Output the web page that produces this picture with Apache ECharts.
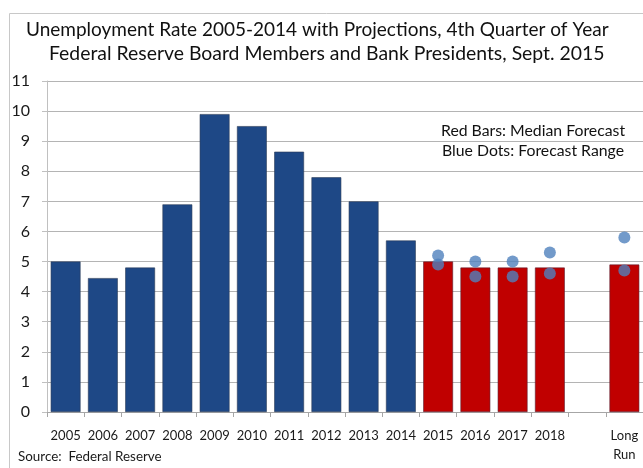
<!DOCTYPE html>
<html>
<head>
<meta charset="utf-8">
<script src="https://cdn.jsdelivr.net/npm/echarts@6/dist/echarts.min.js"></script>
<style>
  html, body { margin: 0; padding: 0; background: #fff; }
  #chart { width: 643px; height: 468px; }
</style>
</head>
<body>
<div id="chart"></div>
<script>
(function(){
  // Categorías del eje X (hueco vacío antes de "Long Run")
  const categories = ["2005","2006","2007","2008","2009","2010","2011","2012","2013","2014",
                      "2015","2016","2017","2018","","Long\nRun"];
  // Tasa de desempleo histórica (4º trimestre)
  const actualRate = [5.0, 4.45, 4.8, 6.9, 9.9, 9.5, 8.65, 7.8, 7.0, 5.7,
                      null, null, null, null, null, null];
  // Mediana de proyecciones
  const medianProj = [null, null, null, null, null, null, null, null, null, null,
                      5.0, 4.8, 4.8, 4.8, null, 4.9];
  // Rango de proyecciones (puntos)
  const rangeHigh = ["-","-","-","-","-","-","-","-","-","-", 5.2, 5.0, 5.0, 5.3, "-", 5.8];
  const rangeLow  = ["-","-","-","-","-","-","-","-","-","-", 4.9, 4.5, 4.5, 4.6, "-", 4.7];
  const yTicks = [0, 11, 1]; // min, max, intervalo

  const font = "Lato, 'Noto Sans', sans-serif";
  const chart = echarts.init(document.getElementById("chart"));

  const dotStyle = { color: "#4f81bd" };

  const option = {
    animation: false,
    grid: { left: 47, top: 81, width: 601, height: 331, containLabel: false },
    graphic: [
      { type: "rect", shape: { x: 9.5, y: 13.5, width: 700, height: 500 },
        style: { fill: "none", stroke: "#c8c8c8", lineWidth: 1 }, silent: true },
      { type: "text", x: 26, y: 30, style: { text: "Unemployment Rate 2005-2014 with Projections, 4th Quarter of Year",
        font: "19px " + font, fill: "#111", align: "left", verticalAlign: "middle" } },
      { type: "text", x: 49, y: 54, style: { text: "Federal Reserve Board Members and Bank Presidents, Sept. 2015",
        font: "19.4px " + font, fill: "#111", align: "left", verticalAlign: "middle" } },
      { type: "text", x: 441, y: 131, style: { text: "Red Bars: Median Forecast",
        font: "15.8px " + font, fill: "#111", align: "left", verticalAlign: "middle" } },
      { type: "text", x: 442, y: 151, style: { text: "Blue Dots: Forecast Range",
        font: "15.8px " + font, fill: "#111", align: "left", verticalAlign: "middle" } },
      { type: "text", x: 18, y: 457, style: { text: "Source:  Federal Reserve",
        font: "13.4px " + font, fill: "#1a1a1a", align: "left", verticalAlign: "middle" } }
    ],
    xAxis: {
      type: "category",
      data: categories,
      axisLine: { lineStyle: { color: "#a6a6a6" } },
      axisTick: { show: true, interval: 0, length: 5, lineStyle: { color: "#a6a6a6" } },
      axisLabel: { interval: 0, margin: 14, color: "#1a1a1a", fontSize: 13, fontFamily: font, lineHeight: 19 }
    },
    yAxis: {
      type: "value",
      min: yTicks[0], max: yTicks[1], interval: yTicks[2],
      axisLine: { show: true, lineStyle: { color: "#c0c0c0" } },
      axisTick: { show: true, length: 5, lineStyle: { color: "#c0c0c0" } },
      axisLabel: { margin: 17, color: "#1a1a1a", fontSize: 16, fontFamily: font },
      splitLine: { lineStyle: { color: "#b4b4b4" } }
    },
    series: [
      { name: "Actual", type: "bar", data: actualRate, barCategoryGap: "20%", barGap: "-100%",
        itemStyle: { color: "#1e4886", borderColor: "#2b3a55", borderWidth: 0.6 } },
      { name: "Median", type: "bar", data: medianProj, barCategoryGap: "20%", barGap: "-100%",
        itemStyle: { color: "#c00000", borderColor: "#5a2030", borderWidth: 0.6 } },
      { name: "High", type: "scatter", data: rangeHigh, symbolSize: 12, itemStyle: dotStyle, z: 5 },
      { name: "Low", type: "scatter", data: rangeLow, symbolSize: 12, itemStyle: dotStyle, z: 5 }
    ]
  };

  chart.setOption(option);
  window.addEventListener("resize", () => chart.resize());
})();
</script>
</body>
</html>
